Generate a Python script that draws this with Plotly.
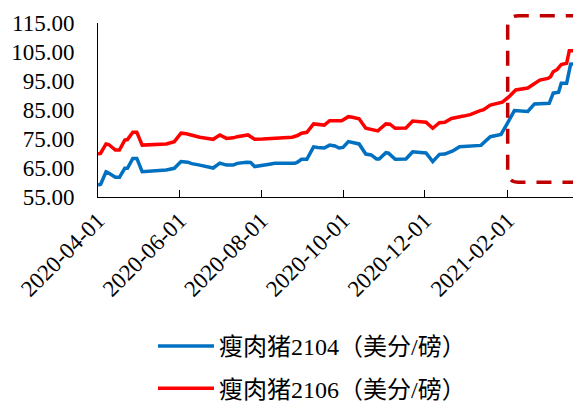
import plotly.graph_objects as go

# ---- data ----
dates_2104 = [
    "2020-04-01", "2020-04-03", "2020-04-07", "2020-04-08", "2020-04-14", "2020-04-17",
    "2020-04-21", "2020-04-23", "2020-04-27", "2020-04-30", "2020-05-04", "2020-05-12",
    "2020-05-22", "2020-05-28", "2020-06-02", "2020-06-07", "2020-06-10", "2020-06-16",
    "2020-06-22", "2020-06-26", "2020-07-01", "2020-07-06", "2020-07-11", "2020-07-14",
    "2020-07-21", "2020-07-24", "2020-07-27", "2020-08-02", "2020-08-07", "2020-08-11",
    "2020-08-15", "2020-08-26", "2020-08-28", "2020-08-31", "2020-09-04", "2020-09-09",
    "2020-09-12", "2020-09-17", "2020-09-21", "2020-09-25", "2020-09-28", "2020-10-01",
    "2020-10-05", "2020-10-08", "2020-10-13", "2020-10-18", "2020-10-22", "2020-10-26",
    "2020-10-28", "2020-11-02", "2020-11-04", "2020-11-09", "2020-11-17", "2020-11-22",
    "2020-12-02", "2020-12-07", "2020-12-12", "2020-12-16", "2020-12-20", "2020-12-22",
    "2020-12-27", "2021-01-06", "2021-01-12", "2021-01-19", "2021-01-25", "2021-01-27",
    "2021-01-31", "2021-02-06", "2021-02-16", "2021-02-21", "2021-03-04", "2021-03-07",
    "2021-03-11", "2021-03-13", "2021-03-17", "2021-03-20", "2021-03-25",
]
values_2104 = [
    59.1, 59.4, 63.7, 63.5, 61.8, 61.8,
    64.9, 64.9, 68.3, 68.3, 63.7, 63.9,
    64.3, 64.9, 67.2, 67.0, 66.5, 66.0,
    65.4, 65.0, 66.7, 66.0, 66.0, 66.6,
    67.0, 66.9, 65.5, 65.8, 66.3, 66.6,
    66.6, 66.6, 67.0, 68.0, 68.0, 72.3,
    72.1, 71.9, 72.9, 72.6, 71.9, 72.1,
    74.1, 73.9, 73.3, 69.8, 69.5, 68.1,
    68.1, 70.3, 70.1, 68.0, 68.1, 70.6,
    70.2, 67.2, 69.7, 69.8, 70.6, 70.9,
    72.3, 72.6, 72.8, 75.8, 76.4, 76.6,
    79.8, 84.8, 84.5, 87.1, 87.3, 90.8,
    91.1, 94.2, 94.2, 100.8, 101.0,
]

dates_2106 = [
    "2020-04-01", "2020-04-03", "2020-04-07", "2020-04-09", "2020-04-14", "2020-04-17",
    "2020-04-21", "2020-04-23", "2020-04-27", "2020-04-30", "2020-05-04", "2020-05-14",
    "2020-05-22", "2020-05-28", "2020-06-02", "2020-06-06", "2020-06-10", "2020-06-16",
    "2020-06-22", "2020-06-26", "2020-07-01", "2020-07-06", "2020-07-11", "2020-07-14",
    "2020-07-22", "2020-07-27", "2020-08-02", "2020-08-09", "2020-08-24", "2020-08-28",
    "2020-08-31", "2020-09-04", "2020-09-09", "2020-09-17", "2020-09-21", "2020-09-30",
    "2020-10-05", "2020-10-08", "2020-10-13", "2020-10-18", "2020-10-22", "2020-10-27",
    "2020-11-02", "2020-11-05", "2020-11-09", "2020-11-17", "2020-11-22", "2020-12-02",
    "2020-12-07", "2020-12-12", "2020-12-16", "2020-12-21", "2020-12-30", "2021-01-04",
    "2021-01-11", "2021-01-14", "2021-01-19", "2021-01-25", "2021-01-28", "2021-02-02",
    "2021-02-07", "2021-02-16", "2021-02-21", "2021-02-25", "2021-03-03", "2021-03-05",
    "2021-03-07", "2021-03-10", "2021-03-13", "2021-03-17", "2021-03-19", "2021-03-25",
]
values_2106 = [
    69.8, 70.1, 73.3, 73.1, 71.2, 71.2,
    74.6, 74.8, 77.3, 77.3, 72.9, 73.1,
    73.3, 74.1, 77.0, 76.8, 76.2, 75.6,
    75.2, 74.9, 76.4, 75.2, 75.4, 75.8,
    76.4, 74.9, 75.0, 75.2, 75.6, 76.2,
    77.0, 77.3, 80.2, 79.8, 81.3, 81.3,
    82.7, 82.5, 82.0, 78.7, 78.4, 77.8,
    80.2, 80.1, 78.7, 78.8, 81.2, 80.8,
    78.7, 80.6, 80.8, 82.1, 82.9, 83.4,
    84.7, 85.1, 86.7, 87.4, 87.7, 89.6,
    91.9, 92.6, 94.2, 95.3, 95.9, 96.5,
    98.2, 99.0, 100.7, 101.1, 105.4, 105.4,
]

series_names = ["瘦肉猪2104（美分/磅）", "瘦肉猪2106（美分/磅）"]
series_colors = ["#0070C0", "#FF0000"]

x_tick_vals = ["2020-04-01", "2020-06-01", "2020-08-01", "2020-10-01", "2020-12-01", "2021-02-01"]
x_tick_text = ["2020-04-01", "2020-06-01", "2020-08-01", "2020-10-01", "2020-12-01", "2021-02-01"]
x_range = ["2020-04-01", "2021-03-25 12:00"]
y_tick_vals = [55, 65, 75, 85, 95, 105, 115]
y_range = [55, 115]

FONT = "Liberation Serif, Times New Roman, Noto Sans CJK SC, serif"

fig = go.Figure()
fig.add_trace(go.Scatter(x=dates_2104, y=values_2104, mode="lines", name=series_names[0],
                         line=dict(color=series_colors[0], width=3.5), legendgroup="a"))
fig.add_trace(go.Scatter(x=dates_2106, y=values_2106, mode="lines", name=series_names[1],
                         line=dict(color=series_colors[1], width=3.5), legendgroup="b"))

# dashed highlight box (paper coordinates)
xL, xR = 0.8535, 1.06
yT, yB = 1.042, 0.0845
rx, ry = 0.023, 0.063
path = (f"M {xR},{yT} L {xL + rx},{yT} Q {xL},{yT} {xL},{yT - ry} "
        f"L {xL},{yB + ry} Q {xL},{yB} {xL + rx},{yB} L {xR},{yB}")
fig.add_shape(type="path", path=path, xref="paper", yref="paper",
              line=dict(color="#C00000", width=3.5, dash="15px,11px"))

# the page body adds an 8px offset; margins compensate for it
fig.update_layout(
    width=581, height=401,
    margin=dict(l=90, r=11, t=15, b=212, pad=0, autoexpand=False),
    paper_bgcolor="white", plot_bgcolor="white",
    font=dict(family=FONT, size=23, color="black"),
    showlegend=True,
    legend=dict(
        orientation="v", x=145 / 581, y=1 - 316 / 401, xref="container", yref="container",
        xanchor="left", yanchor="top",
        font=dict(family=FONT, size=24, color="black"),
        tracegroupgap=8, itemwidth=56, bgcolor="rgba(0,0,0,0)",
    ),
    xaxis=dict(
        type="date", range=x_range,
        tickmode="array", tickvals=x_tick_vals, ticktext=x_tick_text,
        tickangle=-45, ticks="inside", ticklen=7, tickcolor="black", tickwidth=1,
        showline=True, linecolor="black", linewidth=1,
        showgrid=False, zeroline=False,
        tickfont=dict(family=FONT, size=23, color="black"),
    ),
    yaxis=dict(
        range=y_range, tickmode="array", tickvals=y_tick_vals, tickformat=".2f",
        ticks="", showline=True, linecolor="black", linewidth=1,
        showgrid=False, zeroline=False, ticklabelstandoff=18,
        tickfont=dict(family=FONT, size=23, color="black"),
    ),
)

fig.write_html("out.html")
